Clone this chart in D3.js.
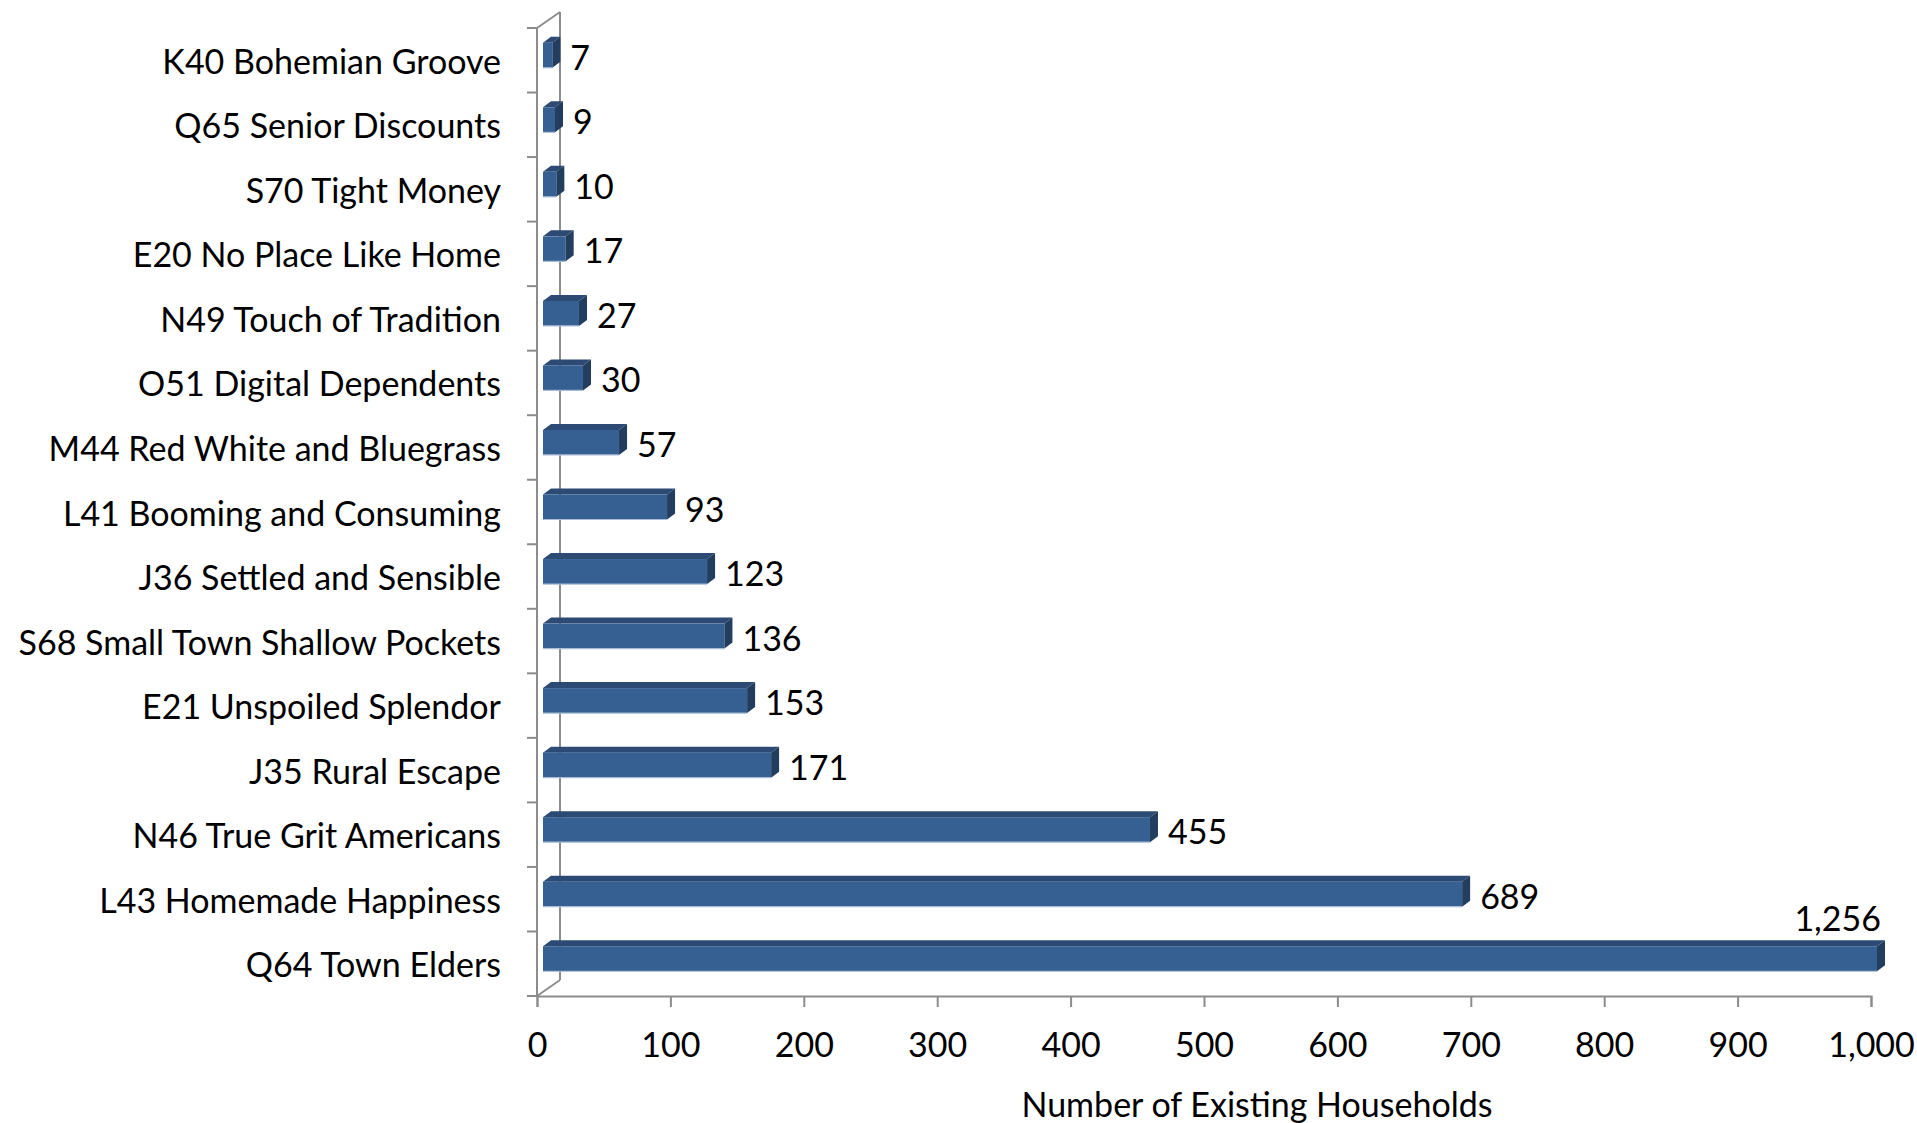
<!DOCTYPE html>
<html>
<head>
<meta charset="utf-8">
<script src="https://cdn.jsdelivr.net/npm/d3@7"></script>
<style>
  html, body { margin: 0; padding: 0; background: #ffffff; }
  svg { display: block; }
  text { font-family: Lato, "Open Sans", sans-serif; fill: #000; }
</style>
</head>
<body>
<svg id="chart" width="1917" height="1123"></svg>
<script>
// Tapestry segments and household counts
const categories = [
  "K40 Bohemian Groove",
  "Q65 Senior Discounts",
  "S70 Tight Money",
  "E20 No Place Like Home",
  "N49 Touch of Tradition",
  "O51 Digital Dependents",
  "M44 Red White and Bluegrass",
  "L41 Booming and Consuming",
  "J36 Settled and Sensible",
  "S68 Small Town Shallow Pockets",
  "E21 Unspoiled Splendor",
  "J35 Rural Escape",
  "N46 True Grit Americans",
  "L43 Homemade Happiness",
  "Q64 Town Elders"
];
const households = [7, 9, 10, 17, 27, 30, 57, 93, 123, 136, 153, 171, 455, 689, 1256];
const xTicks = [0, 100, 200, 300, 400, 500, 600, 700, 800, 900, 1000];
const xTitle = "Number of Existing Households";

const svg = d3.select("#chart");
const fontSize = 34;

// plot frame (front plane) and 3D depth of the wall
const plotLeft = 537, plotRight = 1871, plotTop = 28, plotBottom = 996;
const wallDx = 23, wallDy = -16;
const barOffset = 6, barDx = 8, barDy = -6, barH = 25;
const axisColor = "#8c8c8c";

const x = d3.scaleLinear().domain([0, 1000]).range([plotLeft, plotRight]);
const y = d3.scaleBand().domain(categories).range([plotTop, plotBottom]);

// left wall outline
const wall = svg.append("g").attr("stroke", axisColor).attr("stroke-width", 2).attr("fill", "none");
wall.append("line").attr("x1", plotLeft).attr("y1", plotTop).attr("x2", plotLeft).attr("y2", plotBottom);
wall.append("line").attr("x1", plotLeft + wallDx).attr("y1", plotTop + wallDy).attr("x2", plotLeft + wallDx).attr("y2", plotBottom + wallDy);
wall.append("line").attr("x1", plotLeft).attr("y1", plotTop).attr("x2", plotLeft + wallDx).attr("y2", plotTop + wallDy);
wall.append("line").attr("x1", plotLeft).attr("y1", plotBottom).attr("x2", plotLeft + wallDx).attr("y2", plotBottom + wallDy);

// category tick marks at band boundaries
const bounds = categories.map(c => y(c)).concat([plotBottom]);
wall.selectAll("line.ytick").data(bounds).join("line")
  .attr("class", "ytick")
  .attr("x1", plotLeft - 10).attr("x2", plotLeft)
  .attr("y1", d => d).attr("y2", d => d);

// bottom value axis
const xAxis = svg.append("g")
  .attr("transform", `translate(0,${plotBottom})`)
  .call(d3.axisBottom(x).tickValues(xTicks).tickFormat(d3.format(",")).tickSize(11).tickPadding(26));
xAxis.select(".domain").attr("stroke", axisColor).attr("stroke-width", 2);
xAxis.selectAll(".tick line").attr("stroke", axisColor).attr("stroke-width", 2);
xAxis.selectAll(".tick text").attr("font-size", fontSize).attr("font-family", "Lato, 'Open Sans', sans-serif").attr("fill", "#000");

// category labels
svg.append("g").selectAll("text").data(categories).join("text")
  .attr("x", 501)
  .attr("y", d => y(d) + y.bandwidth() / 2)
  .attr("text-anchor", "end")
  .attr("dominant-baseline", "central")
  .attr("font-size", fontSize)
  .text(d => d);

// 3D bars
const rows = categories.map((c, i) => ({ c, v: households[i] }));
const bars = svg.append("g");
rows.forEach(r => {
  const xl = x(0) + barOffset;
  const xr = x(Math.min(r.v, 1000)) + barOffset;
  const cy = y(r.c) + y.bandwidth() / 2 - 5;
  const t = cy - barH / 2;
  const g = bars.append("g");
  // top face
  g.append("polygon")
    .attr("points", [[xl, t], [xl + barDx, t + barDy], [xr + barDx, t + barDy], [xr, t]].map(p => p.join(",")).join(" "))
    .attr("fill", "#2c4a73");
  // front face
  g.append("rect").attr("x", xl).attr("y", t).attr("width", xr - xl).attr("height", barH).attr("fill", "#376092");
  // light lower edge
  g.append("line").attr("x1", xl).attr("x2", xr).attr("y1", t + barH).attr("y2", t + barH)
    .attr("stroke", "#a9bcd6").attr("stroke-width", 1.2);
  // right side face
  g.append("polygon")
    .attr("points", [[xr, t], [xr + barDx, t + barDy], [xr + barDx, t + barH + barDy], [xr, t + barH]].map(p => p.join(",")).join(" "))
    .attr("fill", "#233d5f");

  // value label
  const lbl = g.append("text").attr("font-size", fontSize).text(d3.format(",")(r.v));
  if (r.v > 1000) {
    lbl.attr("x", xr + barDx - 4).attr("y", t - 29).attr("text-anchor", "end").attr("dominant-baseline", "central");
  } else {
    lbl.attr("x", xr + barDx + 10).attr("y", cy + 1).attr("dominant-baseline", "central");
  }
});

// axis title
svg.append("text")
  .attr("x", 1257).attr("y", 1117)
  .attr("text-anchor", "middle")
  .attr("font-size", fontSize)
  .text(xTitle);
</script>
</body>
</html>
